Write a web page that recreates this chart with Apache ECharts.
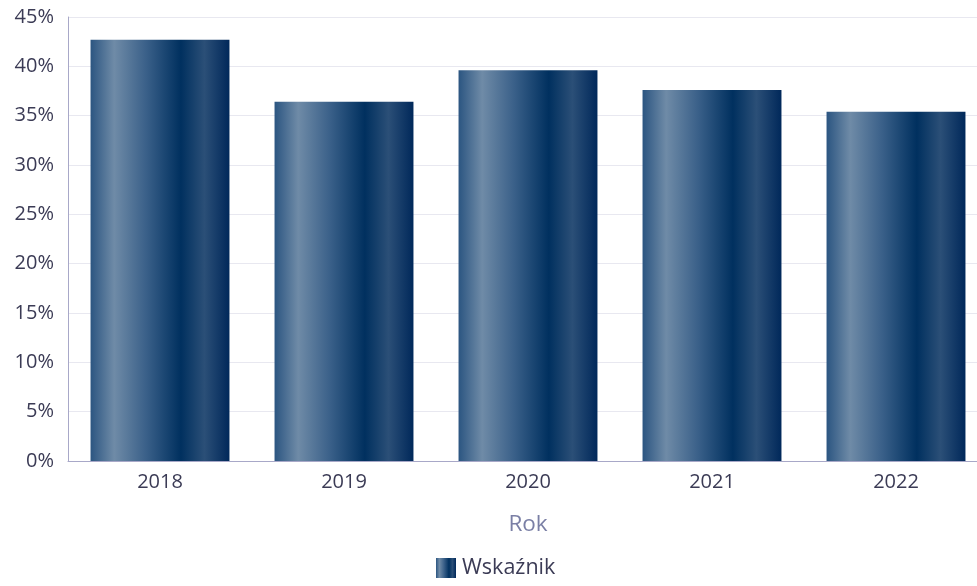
<!DOCTYPE html>
<html><head><meta charset="utf-8">
<script src="https://cdn.jsdelivr.net/npm/echarts@6/dist/echarts.min.js"></script>
<style>html,body{margin:0;padding:0;background:#fff;overflow:hidden}#c{width:988px;height:586px}</style>
</head><body><div id="c"></div>
<script>
const categories = ['2018','2019','2020','2021','2022'];
const values = [42.7, 36.4, 39.6, 37.6, 35.4];
const yTicks = [0,5,10,15,20,25,30,35,40,45];
const seriesName = 'Wskaźnik';

const grad = new echarts.graphic.LinearGradient(0,0,1,0,[
  {offset:0, color:'#2b5581'},
  {offset:0.17, color:'#6f8ba7'},
  {offset:0.4, color:'#3a6089'},
  {offset:0.65, color:'#00305f'},
  {offset:0.82, color:'#2b4f77'},
  {offset:1, color:'#00285a'}
]);
const chart = echarts.init(document.getElementById('c'));
chart.setOption({
  animation:false,
  textStyle:{fontFamily:'Open Sans'},
  grid:{left:68,right:0,top:17,bottom:125,containLabel:false},
  legend:{bottom:2,left:431,itemWidth:20,itemHeight:20,itemGap:10,icon:'rect',
    textStyle:{fontSize:21.5,color:'#3b3b55',fontFamily:'Open Sans',padding:[0,0,0,1]},data:[seriesName]},
  xAxis:{type:'category',data:categories,name:'Rok',nameLocation:'middle',nameGap:52,
    nameTextStyle:{fontSize:22.5,color:'#7a7fa5'},
    axisLine:{lineStyle:{color:'#a8a8c8'}},axisTick:{show:false},
    axisLabel:{fontSize:20,color:'#3b3b55',margin:11}},
  yAxis:{type:'value',min:yTicks[0],max:yTicks[yTicks.length-1],interval:5,
    axisLine:{show:true,lineStyle:{color:'#a8a8c8'}},
    splitLine:{lineStyle:{color:'#e8e8f0'}},
    axisLabel:{fontSize:20,color:'#3b3b55',formatter:'{value}%',margin:14}},
  series:[{name:seriesName,type:'bar',data:values,barWidth:'75.5%',
    itemStyle:{color:grad}}]
});
</script></body></html>
